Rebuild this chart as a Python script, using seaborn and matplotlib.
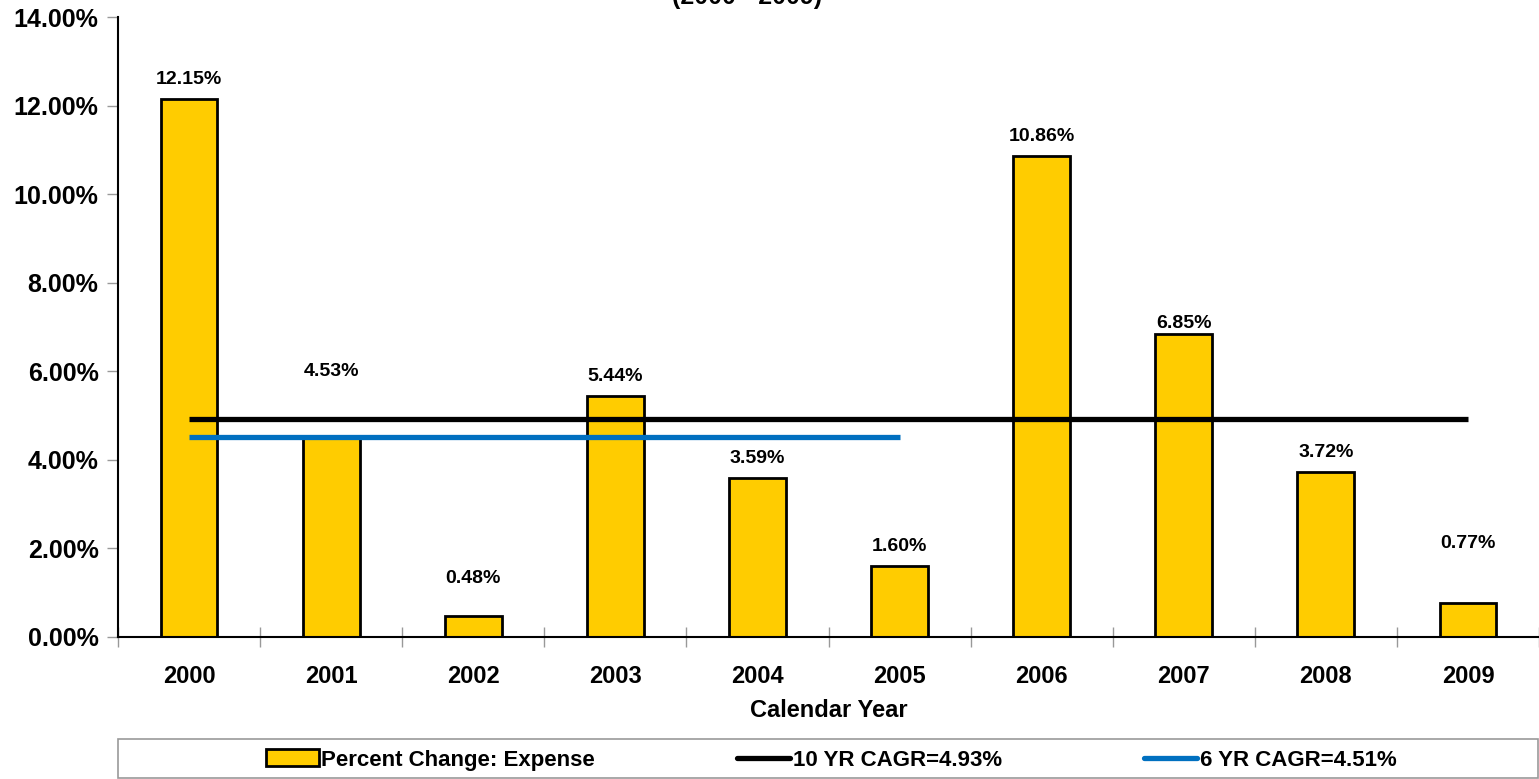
import matplotlib
matplotlib.use("Agg")
import matplotlib.pyplot as plt
from matplotlib.patches import Rectangle, Patch
from matplotlib.lines import Line2D
from matplotlib.ticker import FuncFormatter, FixedLocator
import seaborn as sns
import pandas as pd

# ---- data ----
years = ["2000", "2001", "2002", "2003", "2004", "2005", "2006", "2007", "2008", "2009"]
pct_change = [12.15, 4.53, 0.48, 5.44, 3.59, 1.60, 10.86, 6.85, 3.72, 0.77]
cagr_10yr = 4.93
cagr_10yr_years = ["2000", "2009"]
cagr_6yr = 4.51
cagr_6yr_years = ["2000", "2005"]
y_ticks = [0, 2, 4, 6, 8, 10, 12, 14]
series_name = "Percent Change: Expense"
label_10 = "10 YR CAGR=4.93%"
label_6 = "6 YR CAGR=4.51%"
x_title = "Calendar Year"
subtitle = "(2000 - 2009)"

# label offsets (points above bar top) - styling only
label_offsets = [14, 47, 27, 14, 14, 14, 14, 7, 14, 43]

sns.set_theme(style="white")
plt.rcParams["font.family"] = ["Liberation Sans", "DejaVu Sans"]
plt.rcParams["font.weight"] = "bold"
plt.rcParams["text.color"] = "black"
plt.rcParams["axes.labelcolor"] = "black"
plt.rcParams["xtick.labelcolor"] = "black"
plt.rcParams["ytick.labelcolor"] = "black"

W, H = 1539, 779
fig = plt.figure(figsize=(W / 100, H / 100), dpi=100)
ax = fig.add_axes([118 / W, (H - 637) / H, (W - 118) / W, 620 / H])

df = pd.DataFrame({"year": years, "pct": pct_change})
sns.barplot(data=df, x="year", y="pct", order=years, color="#FFCC00",
            saturation=1, width=0.4, edgecolor="black", linewidth=2.0, ax=ax)

pos = {y: i for i, y in enumerate(years)}
sns.lineplot(x=[pos[y] for y in cagr_10yr_years], y=[cagr_10yr] * 2, color="black",
             linewidth=3.8, ax=ax, solid_capstyle="butt")
sns.lineplot(x=[pos[y] for y in cagr_6yr_years], y=[cagr_6yr] * 2, color="#0070C0",
             linewidth=3.8, ax=ax, solid_capstyle="butt")

for i, (v, off) in enumerate(zip(pct_change, label_offsets)):
    ax.annotate(f"{v:.2f}%", (i, v), xytext=(0, off), textcoords="offset points",
                ha="center", va="center", fontsize=14, fontweight="bold", color="black")

ax.set_xlim(-0.5, len(years) - 0.5)
ax.set_ylim(0, 14)
ax.set_yticks(y_ticks)
ax.yaxis.set_major_formatter(FuncFormatter(lambda v, p: f"{v:.2f}%"))
ax.tick_params(axis="y", labelsize=18, length=8, width=1, color="#999999",
               labelcolor="black", direction="out", pad=6, left=True)
for lab in ax.get_yticklabels():
    lab.set_fontweight("bold")

ax.set_xticks(range(len(years)))
ax.set_xticklabels(years, fontsize=17, fontweight="bold")
ax.tick_params(axis="x", which="major", length=0, pad=20, labelcolor="black")
ax.xaxis.set_minor_locator(FixedLocator([i - 0.5 for i in range(len(years) + 1)]))
ax.tick_params(axis="x", which="minor", length=14, width=1, color="#999999",
               direction="inout", bottom=True)

ax.set_xlabel(x_title, fontsize=17, fontweight="bold", labelpad=8, color="black")
ax.set_ylabel("")

for s in ["top", "right"]:
    ax.spines[s].set_visible(False)
for s in ["left", "bottom"]:
    ax.spines[s].set_color("black")
    ax.spines[s].set_linewidth(1.5)
ax.grid(False)

# subtitle (clipped at top, as in the reference)
fig.text(747 / W, (H - 4) / H, subtitle, ha="center", va="baseline",
         fontsize=18, fontweight="bold", color="black")

# legend with frame spanning width
frame = Rectangle((118 / W, (H - 778) / H), (W - 118 - 1) / W, 39 / H,
                  transform=fig.transFigure, facecolor="white",
                  edgecolor="#999999", linewidth=1.2)
fig.add_artist(frame)
handles = [Patch(facecolor="#FFCC00", edgecolor="black", linewidth=2.0),
           Line2D([0], [0], color="black", linewidth=3.8),
           Line2D([0], [0], color="#0070C0", linewidth=3.8)]
leg = fig.legend(handles, [series_name, label_10, label_6], loc="center",
                 bbox_to_anchor=(831 / W, (H - 760) / H), ncol=3, frameon=False,
                 prop={"size": 16, "weight": "bold"}, handlelength=2.4,
                 handletextpad=0.1, columnspacing=6.4, handleheight=0.8)
for t in leg.get_texts():
    t.set_color("black")

fig.savefig("out.png", dpi=100)
